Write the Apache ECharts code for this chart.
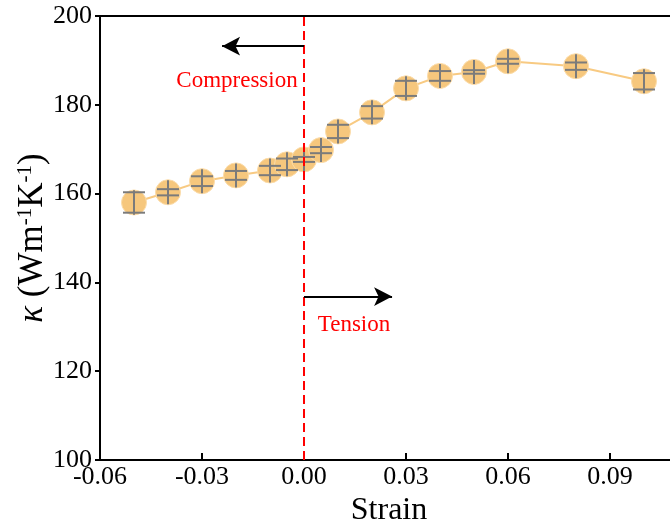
<!DOCTYPE html>
<html>
<head>
<meta charset="utf-8">
<script src="https://cdn.jsdelivr.net/npm/echarts@6/dist/echarts.min.js"></script>
<style>
  html, body { margin: 0; padding: 0; background: #fff; }
  #coolgraph { width: 670px; height: 529px; }
</style>
</head>
<body>
<div id="coolgraph"></div>
<script>
var strain = [-0.05, -0.04, -0.03, -0.02, -0.01, -0.005, 0, 0.005, 0.01, 0.02, 0.03, 0.04, 0.05, 0.06, 0.08, 0.1];
var kappa = [158.0, 160.3, 162.8, 164.1, 165.2, 166.6, 167.7, 169.8, 174.0, 178.3, 183.7, 186.5, 187.4, 189.8, 188.7, 185.3];
var kappaErr = [2.3, 0.7, 1.1, 1.0, 1.05, 1.3, 0.56, 0.7, 1.5, 1.4, 1.7, 1.1, 0.4, 0.56, 0.83, 1.85];

var font = 'Liberation Serif';
var chartDom = document.getElementById('coolgraph');
var myChart = echarts.init(chartDom);
var option;

var points = [];
var bars = [];
for (let i = 0; i < strain.length; i++) {
  points.push([strain[i], kappa[i]]);
  bars.push([strain[i], kappa[i], kappaErr[i]]);
}

// error bar: caps at +-err, vertical stroke through the marker
function renderErr(params, api) {
  var c = api.coord([api.value(0), api.value(1)]);
  var hi = api.coord([api.value(0), api.value(1) + api.value(2)]);
  var lo = api.coord([api.value(0), api.value(1) - api.value(2)]);
  var st = { stroke: '#7b7b7b', lineWidth: 2 };
  var half = Math.max(12, (lo[1] - hi[1]) / 2 + 2);
  return {
    type: 'group',
    children: [
      { type: 'line', shape: { x1: c[0], y1: c[1] - half, x2: c[0], y2: c[1] + half }, style: st },
      { type: 'line', shape: { x1: c[0] - 11, y1: hi[1], x2: c[0] + 11, y2: hi[1] }, style: st },
      { type: 'line', shape: { x1: c[0] - 11, y1: lo[1], x2: c[0] + 11, y2: lo[1] }, style: st }
    ]
  };
}

option = {
  animation: false,
  grid: {
    left: 100,
    top: 16,
    bottom: 69,
    width: 578,
    outerBoundsMode: 'none',
    containLabel: false,
    show: true,
    borderColor: '#000',
    borderWidth: 2
  },
  xAxis: {
    type: 'value',
    min: -0.06,
    max: 0.11,
    interval: 0.03,
    name: 'Strain',
    nameLocation: 'middle',
    nameGap: 34,
    nameTextStyle: { fontFamily: font, fontSize: 32, color: '#000' },
    axisLine: { onZero: false, lineStyle: { color: '#000', width: 2 } },
    axisTick: { inside: true, length: 7, lineStyle: { color: '#000', width: 2 } },
    axisLabel: {
      fontFamily: font, fontSize: 26, color: '#000', margin: 4,
      showMaxLabel: false,
      alignMinLabel: 'center',
      formatter: function (v) { return Math.abs(v) < 1e-9 ? '0.00' : v.toFixed(2); }
    },
    splitLine: { show: false }
  },
  yAxis: {
    type: 'value',
    min: 100,
    max: 200,
    interval: 20,
    name: '{k|κ} (Wm{s|-1}K{s|-1})',
    nameLocation: 'middle',
    nameGap: 50,
    nameMoveOverlap: false,
    nameTextStyle: {
      fontFamily: font, fontSize: 35, color: '#000',
      rich: {
        k: { fontFamily: font, fontSize: 35, fontStyle: 'italic', color: '#000' },
        s: { fontFamily: font, fontSize: 21, verticalAlign: 'top', color: '#000' }
      }
    },
    axisLine: { onZero: false, lineStyle: { color: '#000', width: 2 } },
    axisTick: { inside: false, length: 5, lineStyle: { color: '#000', width: 2 } },
    axisLabel: { fontFamily: font, fontSize: 26, color: '#000', margin: 8 },
    splitLine: { show: false }
  },
  series: [
    {
      type: 'line',
      data: points,
      symbol: 'circle',
      symbolSize: 25,
      itemStyle: { color: '#f6c77d', borderColor: '#fbdcaa', borderWidth: 1 },
      lineStyle: { color: '#f8ca82', width: 2 },
      z: 2,
      markLine: {
        silent: true,
        symbol: ['none', 'none'],
        label: { show: false },
        data: [
          { xAxis: 0, lineStyle: { color: '#ff0000', type: [9, 5], width: 2 } },
          [
            { coord: [0, 193.2], symbol: 'none', lineStyle: { color: '#000', type: 'solid', width: 2 } },
            { coord: [-0.0241, 193.2], symbol: 'arrow', symbolSize: [14, 18] }
          ],
          [
            { coord: [0, 136.8], symbol: 'none', lineStyle: { color: '#000', type: 'solid', width: 2 } },
            { coord: [0.0259, 136.8], symbol: 'arrow', symbolSize: [14, 18] }
          ]
        ]
      },
      markPoint: {
        silent: true,
        symbol: 'circle',
        symbolSize: 0,
        label: { show: true, position: 'inside', formatter: '{b}', fontFamily: font, fontSize: 23, color: '#ff0000' },
        data: [
          { name: 'Compression', coord: [-0.0197, 185.3] },
          { name: 'Tension', coord: [0.0147, 130.5] }
        ]
      }
    },
    {
      type: 'custom',
      data: bars,
      renderItem: renderErr,
      z: 3,
      silent: true
    }
  ]
};
option && myChart.setOption(option);
</script>
</body>
</html>
